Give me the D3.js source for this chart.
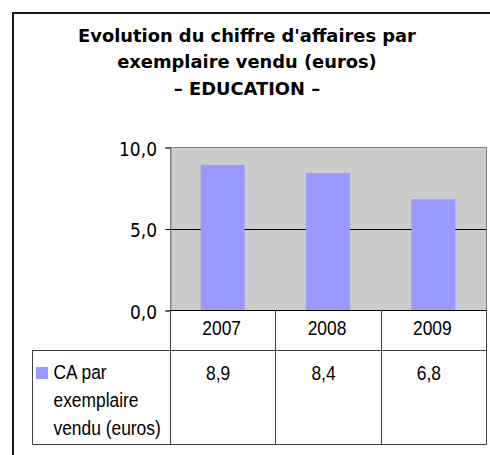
<!DOCTYPE html>
<html>
<head>
<meta charset="utf-8">
<script src="https://cdn.jsdelivr.net/npm/d3@7"></script>
<style>
  html, body { margin: 0; padding: 0; background: #fff; }
  svg { display: block; }
</style>
</head>
<body>
<div id="chart"></div>
<script>
// data
const years = ['2007', '2008', '2009'];
const ca_values = [8.9, 8.4, 6.8];
const y_ticks = [0, 5, 10];
const series_label = ['CA par', 'exemplaire', 'vendu (euros)'];
const title_lines = ["Evolution du chiffre d'affaires par", 'exemplaire vendu (euros)', '\u2013 EDUCATION \u2013'];

const width = 490;
const height = 455;
const plot = {left: 170, right: 486, top: 147, bottom: 310};
const table = {left: 32, yearRow: 350, bottom: 444};

const bar_color = '#9999ff';
const line_color = '#404040';

const svg = d3.select('#chart')
    .append('svg')
    .attr('width', width)
    .attr('height', height);

// measure a string and return the horizontal squeeze so it gets the wanted width
function fit_scale(family, size, weight, str, target) {
    let t = svg.append('text')
        .attr('font-family', family)
        .attr('font-size', size)
        .attr('font-weight', weight)
        .text(str);
    let w = t.node().getComputedTextLength();
    t.remove();
    return target / w;
}

function add_text(parent, str, x, y, opts) {
    return parent.append('text')
        .attr('transform', 'translate(' + x + ',' + y + ') scale(' + opts.k + ',1)')
        .attr('font-family', opts.family)
        .attr('font-size', opts.size)
        .attr('font-weight', opts.weight || 'normal')
        .attr('text-anchor', opts.anchor || 'start')
        .attr('fill', '#000')
        .text(str);
}

const title_font = {family: 'DejaVu Sans', size: 18, weight: 'bold', anchor: 'middle'};
title_font.k = fit_scale(title_font.family, title_font.size, 'bold', title_lines[0], 338);

const axis_font = {family: 'DejaVu Sans', size: 19, anchor: 'end'};
axis_font.k = fit_scale(axis_font.family, axis_font.size, 'normal', '10,0', 38);

const table_font = {family: 'Liberation Sans, Arial, sans-serif', size: 21, anchor: 'middle'};
table_font.k = fit_scale(table_font.family, table_font.size, 'normal', '2007', 38.7);

// outer frame (runs past the right and bottom edge)
svg.append('rect')
    .attr('x', 13)
    .attr('y', 13)
    .attr('width', width + 20)
    .attr('height', height + 20)
    .attr('fill', 'none')
    .attr('stroke', '#1a1a1a')
    .attr('stroke-width', 2);

// title
title_lines.forEach(function (line, i) {
    add_text(svg, line, 247, 42 + i * 26.3, title_font);
});

// scales
const x_scale = d3.scaleBand()
    .domain(years)
    .range([plot.left, plot.right])
    .padding(0);

const bar_scale = d3.scaleBand()
    .domain(years)
    .range([plot.left, plot.right])
    .paddingInner(0.582)
    .paddingOuter(0.291);

const y_scale = d3.scaleLinear()
    .domain([0, 10])
    .range([plot.bottom, plot.top]);

const fr = d3.formatLocale({decimal: ',', thousands: ' ', grouping: [3], currency: ['', ' €']});
const fmt = fr.format('.1f');

// plot area
svg.append('rect')
    .attr('x', plot.left + 0.5)
    .attr('y', plot.top + 0.5)
    .attr('width', plot.right - plot.left)
    .attr('height', plot.bottom - plot.top)
    .attr('fill', '#cccccc')
    .attr('stroke', '#808080')
    .attr('stroke-width', 1);

// gridlines
svg.append('g')
    .selectAll('line')
    .data(y_ticks.filter(function (d) { return d > 0 && d < 10; }))
    .enter()
    .append('line')
    .attr('x1', plot.left)
    .attr('x2', plot.right)
    .attr('y1', function (d) { return Math.round(y_scale(d)) + 0.5; })
    .attr('y2', function (d) { return Math.round(y_scale(d)) + 0.5; })
    .attr('stroke', '#000')
    .attr('stroke-width', 1);

// bars
svg.append('g')
    .selectAll('.bar')
    .data(years)
    .enter()
    .append('rect')
    .attr('class', 'bar')
    .attr('x', function (d) { return bar_scale(d); })
    .attr('y', function (d, i) { return y_scale(ca_values[i]); })
    .attr('width', bar_scale.bandwidth())
    .attr('height', function (d, i) { return y_scale(0) - y_scale(ca_values[i]); })
    .attr('fill', bar_color);

// y axis
let y_axis = d3.axisLeft(y_scale)
    .tickValues(y_ticks)
    .tickSize(5)
    .tickFormat(fmt);

let y_g = svg.append('g')
    .attr('transform', 'translate(' + (plot.left + 0.5) + ',0.5)')
    .call(y_axis);
y_g.select('.domain').attr('stroke', '#808080');
y_g.selectAll('.tick line').attr('stroke', '#000');
y_g.selectAll('.tick text').remove();

y_ticks.forEach(function (d) {
    add_text(svg, fmt(d), 157, y_scale(d) + 8.5, axis_font);
});

// zero line
svg.append('line')
    .attr('x1', plot.left)
    .attr('x2', plot.right)
    .attr('y1', plot.bottom + 0.5)
    .attr('y2', plot.bottom + 0.5)
    .attr('stroke', '#000');

// data table
let tbl = svg.append('g')
    .attr('stroke', line_color)
    .attr('stroke-width', 1)
    .attr('fill', 'none');

// column dividers
let col_edges = years.map(function (d) { return x_scale(d); }).concat([plot.right]);
col_edges.forEach(function (x) {
    tbl.append('line')
        .attr('x1', Math.round(x) + 0.5)
        .attr('x2', Math.round(x) + 0.5)
        .attr('y1', plot.bottom)
        .attr('y2', table.bottom + 0.5);
});
tbl.append('line')
    .attr('x1', table.left + 0.5).attr('x2', plot.right + 0.5)
    .attr('y1', table.yearRow + 0.5).attr('y2', table.yearRow + 0.5);
tbl.append('line')
    .attr('x1', table.left + 0.5).attr('x2', plot.right + 0.5)
    .attr('y1', table.bottom + 0.5).attr('y2', table.bottom + 0.5);
tbl.append('line')
    .attr('x1', table.left + 0.5).attr('x2', table.left + 0.5)
    .attr('y1', table.yearRow).attr('y2', table.bottom + 0.5);

// year labels and values
years.forEach(function (d, i) {
    let cx = x_scale(d) + x_scale.bandwidth() / 2;
    add_text(svg, d, cx - 1, 335, table_font);
    add_text(svg, fmt(ca_values[i]), cx - 4.5, 380, table_font);
});

// legend key and series name
svg.append('rect')
    .attr('x', 36)
    .attr('y', 367)
    .attr('width', 12)
    .attr('height', 12)
    .attr('fill', bar_color);

let leg_font = Object.assign({}, table_font, {anchor: 'start'});
series_label.forEach(function (line, i) {
    add_text(svg, line, 53.5, 379 + i * 28, leg_font);
});
</script>
</body>
</html>
